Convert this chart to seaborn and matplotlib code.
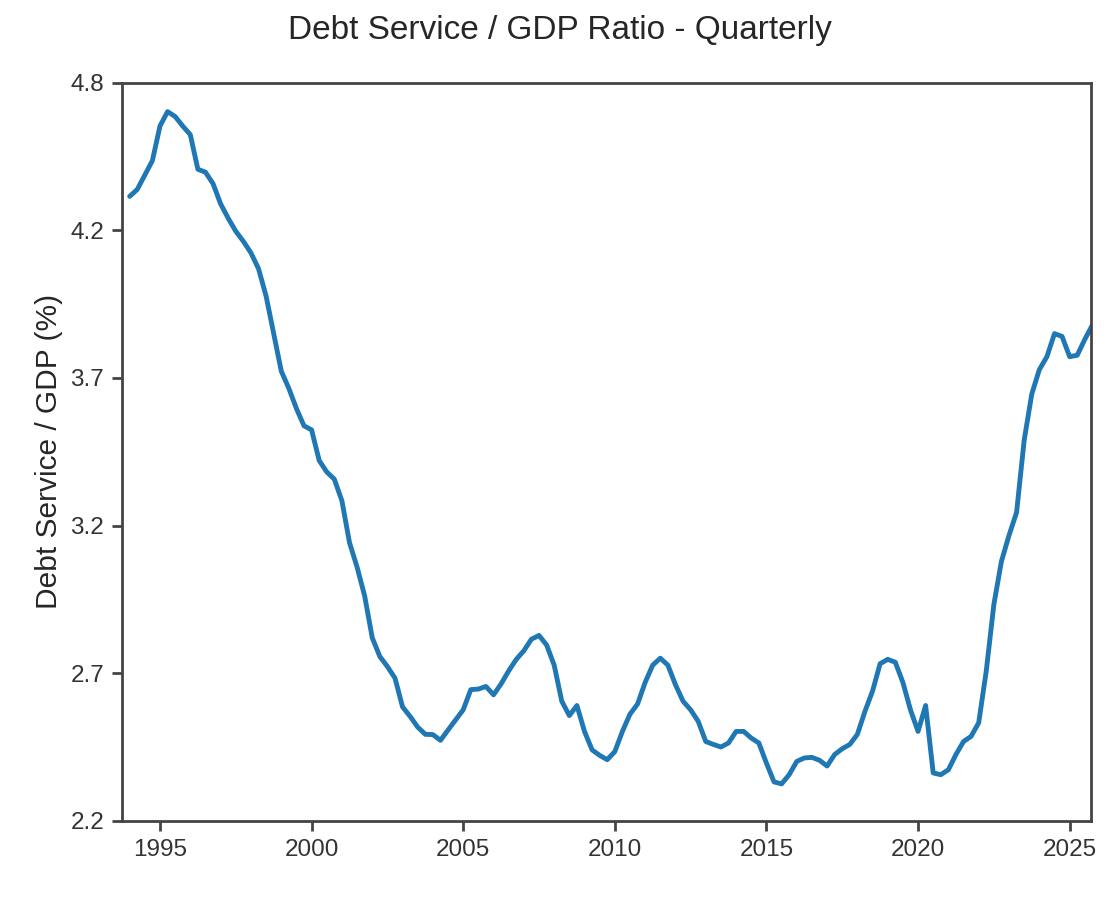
#!/usr/bin/env python3
import numpy as np
import pandas as pd
import matplotlib
matplotlib.use('Agg')
import matplotlib.pyplot as plt
from matplotlib.ticker import FormatStrFormatter
import seaborn as sns

# quarterly ratio, 1994Q1 .. 2025Q4
quarters = pd.period_range('1994Q1', '2025Q4', freq='Q')
debt_service_pct = [
    4.366, 4.39, 4.44, 4.49,
    4.61, 4.66, 4.643, 4.61,
    4.58, 4.46, 4.45, 4.41,
    4.34, 4.29, 4.245, 4.21,
    4.17, 4.115, 4.02, 3.89,
    3.76, 3.70, 3.63, 3.57,
    3.556, 3.45, 3.41, 3.385,
    3.31, 3.165, 3.08, 2.98,
    2.835, 2.77, 2.735, 2.695,
    2.595, 2.562, 2.525, 2.50,
    2.499, 2.479, 2.515, 2.55,
    2.585, 2.655, 2.657, 2.666,
    2.637, 2.675, 2.72, 2.76,
    2.79, 2.83, 2.843, 2.81,
    2.74, 2.615, 2.565, 2.60,
    2.51, 2.446, 2.427, 2.412,
    2.44, 2.51, 2.57, 2.605,
    2.68, 2.74, 2.764, 2.74,
    2.672, 2.615, 2.585, 2.545,
    2.475, 2.465, 2.456, 2.47,
    2.51, 2.51, 2.487, 2.47,
    2.40, 2.335, 2.328, 2.36,
    2.406, 2.418, 2.42, 2.41,
    2.39, 2.43, 2.45, 2.465,
    2.50, 2.58, 2.65, 2.745,
    2.76, 2.75, 2.68, 2.585,
    2.51, 2.60, 2.366, 2.36,
    2.377, 2.43, 2.475, 2.493,
    2.54, 2.72, 2.95, 3.10,
    3.19, 3.27, 3.52, 3.68,
    3.765, 3.81, 3.89, 3.88,
    3.81, 3.815, 3.87, 3.92,
]
year_ticks = [1995, 2000, 2005, 2010, 2015, 2020, 2025]

df = pd.DataFrame({
    'year': [q.year + (q.quarter - 1) / 4 for q in quarters],
    'ratio': debt_service_pct,
})

sns.set_theme(style='ticks')
plt.rcParams['font.family'] = ['Liberation Sans', 'DejaVu Sans']
plt.rcParams['axes.edgecolor'] = '#444444'
plt.rcParams['text.color'] = '#262626'
plt.rcParams['xtick.color'] = '#444444'
plt.rcParams['ytick.color'] = '#444444'
plt.rcParams['xtick.labelcolor'] = '#333333'
plt.rcParams['ytick.labelcolor'] = '#333333'

fig = plt.figure(figsize=(11.2, 9), dpi=100)
ax = fig.add_axes([0.109, 0.088, 0.865, 0.820])

sns.lineplot(data=df, x='year', y='ratio', ax=ax, color='#1f77b4', linewidth=3.5)

ymin, ymax = 2.2, 4.76
ax.set_ylim(ymin, ymax)
ax.set_xlim(1993.75, 2025.7)
ax.set_yticks(np.linspace(ymin, ymax, 6))
ax.yaxis.set_major_formatter(FormatStrFormatter('%.1f'))
ax.set_xticks(year_ticks)
ax.set_xticklabels([str(y) for y in year_ticks])

for s in ax.spines.values():
    s.set_linewidth(2.0)
ax.tick_params(axis='both', which='major', length=7, width=2.0, labelsize=17.5, pad=6)

ax.set_xlabel('')
ax.set_ylabel('Debt Service / GDP (%)', fontsize=21.5, labelpad=5)
fig.suptitle('Debt Service / GDP Ratio - Quarterly', fontsize=24, y=0.983)

fig.savefig('out.png', dpi=100)
